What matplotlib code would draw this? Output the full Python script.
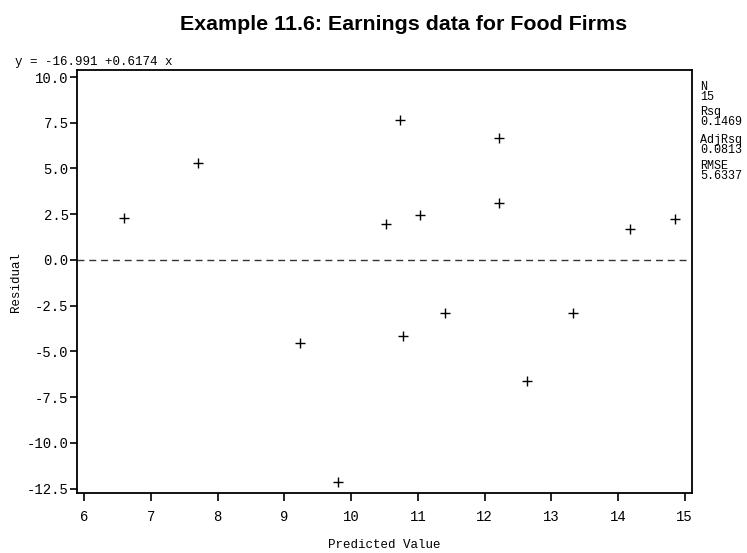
import matplotlib
matplotlib.use("Agg")
import matplotlib.pyplot as plt

# residuals vs predicted values from the earnings regression
predicted = [6.59, 7.70, 10.53, 10.73, 11.03, 12.21, 12.21, 14.18, 14.86,
             9.24, 9.80, 11.41, 10.78, 13.32, 12.63]
residual = [2.31, 5.28, 1.97, 7.65, 2.48, 6.68, 3.10, 1.71, 2.24,
            -4.52, -12.13, -2.88, -4.15, -2.88, -6.60]

x_ticks = [6, 7, 8, 9, 10, 11, 12, 13, 14, 15]
y_ticks = [10.0, 7.5, 5.0, 2.5, 0.0, -2.5, -5.0, -7.5, -10.0, -12.5]

stat_names = ["N", "Rsq", "AdjRsq", "RMSE"]
stat_values = ["15", "0.1469", "0.0813", "5.6337"]
equation = "y = -16.991 +0.6174 x"
title = "Example 11.6: Earnings data for Food Firms"

MONO = "Liberation Mono"
W, H = 747, 553

fig = plt.figure(figsize=(W / 100, H / 100), dpi=100)
ax = fig.add_axes([0.1031, 0.108, 0.8229, 0.765])

ax.plot(predicted, residual, linestyle="none", marker="+", markersize=7,
        markeredgewidth=1.0, color="black")
ax.axhline(0, color="#333333", linewidth=1.0, linestyle=(0, (5, 3.5)))

ax.set_xlim(5.89, 15.107)
ax.set_ylim(-12.75, 10.37)
ax.set_xticks(x_ticks)
ax.set_xticklabels([str(t) for t in x_ticks], family=MONO, fontsize=10)
ax.set_yticks(y_ticks)
ax.set_yticklabels([f"{t:.1f}" for t in y_ticks], family=MONO, fontsize=10)
ax.tick_params(direction="out", width=1.2, color="black")
ax.tick_params(axis="x", length=6, pad=6)
ax.tick_params(axis="y", length=5, pad=1)
for sp in ax.spines.values():
    sp.set_linewidth(1.3)
    sp.set_color("black")

ax.set_xlabel("Predicted Value", family=MONO, fontsize=9, va="center")
ax.set_ylabel("Residual", family=MONO, fontsize=9, va="center")
ax.xaxis.set_label_coords(0.5, -0.122)
ax.yaxis.set_label_coords(-0.099, 0.5)

fig.text(0.54, 0.955, title, ha="center", va="center",
         family="Liberation Sans", fontweight="bold", fontsize=15.4)
fig.text(15 / W, 1 - 62 / H, equation, ha="left", va="center",
         family=MONO, fontsize=9)

# fit statistics down the right margin, name over value
stat_rows = [81, 106, 134, 160]
for name, val, y in zip(stat_names, stat_values, stat_rows):
    fig.text(700 / W, 1 - y / H, f"{name}\n{val}", ha="left", va="top",
             family=MONO, fontsize=8.5, linespacing=0.82)

fig.savefig("out.png", dpi=100)
